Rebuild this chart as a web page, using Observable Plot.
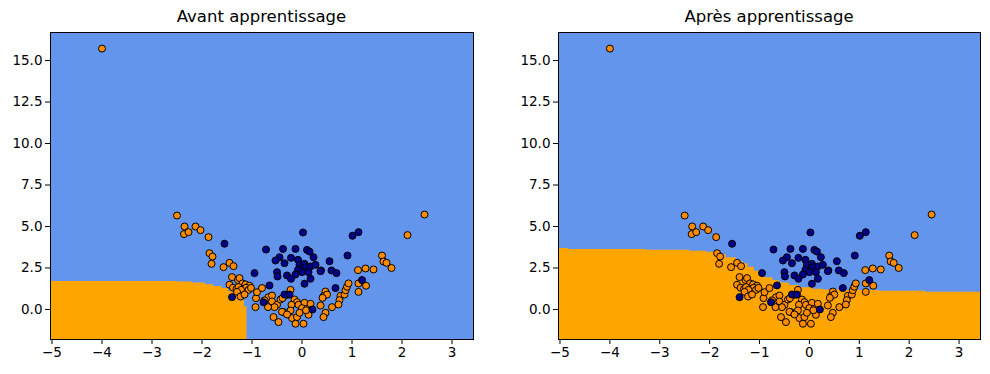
<!DOCTYPE html>
<html>
<head>
<meta charset="utf-8">
<script src="https://cdn.jsdelivr.net/npm/d3@7"></script>
<script src="https://cdn.jsdelivr.net/npm/@observablehq/plot@0.6"></script>
<style>
  html, body { margin: 0; padding: 0; background: white; }
  #root { position: relative; width: 990px; height: 374px; overflow: hidden; font-family: "DejaVu Sans", sans-serif; }
  .panel { position: absolute; top: 0; }
  .title { position: absolute; top: 7px; font-size: 16.5px; color: black; white-space: nowrap; transform: translateX(-50%); }
</style>
</head>
<body>
<div id="root"></div>
<script>
// ---- data ----
const titles = ["Avant apprentissage", "Après apprentissage"];
const xTicks = [-5, -4, -3, -2, -1, 0, 1, 2, 3];
const yTicks = [0, 2.5, 5, 7.5, 10, 12.5, 15];
const xDomain = [-5.03, 3.43];
const yDomain = [-1.81, 16.69];

// class 0 points (darkorange)
const orangePoints = [
  [-4.0,15.72],[-2.5,5.66],[-2.35,5.0],[-2.36,4.54],[-2.27,4.66],[-2.13,5.0],[-2.03,4.78],[-1.87,4.36],
  [-1.85,3.39],[-1.79,3.19],[-1.81,2.75],[-1.57,2.55],[-1.45,2.81],[-1.37,2.61],
  [-1.4,1.95],[-1.28,1.77],[-1.25,1.89],[-1.19,1.57],[-1.45,1.49],[-1.38,1.31],[-1.31,1.24],[-1.27,1.35],
  [-1.13,1.51],[-1.05,1.43],[-1.12,1.31],[-1.22,1.18],[-1.07,1.18],[-1.3,1.06],[-1.23,0.78],[-1.15,0.9],[-1.02,1.3],
  [-0.93,0.14],[-0.92,0.68],[-0.9,1.04],[-0.8,1.29],[-0.67,0.74],[-0.6,0.84],[-0.6,0.48],[-0.5,0.28],
  [-0.55,0.14],[-0.43,0.6],[-0.39,0.68],[-0.3,0.88],[-0.23,1.18],[-0.15,0.6],[-0.1,0.44],[-0.21,0.28],
  [-0.07,0.28],[0.05,0.4],[0.0,0.08],[0.1,0.04],[0.13,-0.32],[-0.57,-0.46],[-0.47,-0.76],[-0.2,-0.52],
  [-0.1,-0.46],[-0.13,-0.86],[0.03,-0.86],[-0.23,-0.06],[-0.37,-0.16],[0.17,0.34],[-0.75,0.55],[-0.68,0.14],
  [-0.4,-0.14],[-0.3,-0.3],[-0.05,-0.2],[0.08,-0.05],
  [0.47,1.08],[0.43,0.8],[0.37,0.24],[0.47,-0.2],[0.43,-0.46],[0.6,0.14],[0.5,0.9],[0.41,0.7],[0.77,0.82],
  [0.75,0.56],[0.73,0.3],[0.85,0.9],[0.87,1.16],[0.9,1.37],[0.93,1.57],[1.13,1.57],[1.28,1.43],[1.13,1.06],
  [1.12,2.37],[1.27,2.47],[1.43,2.41],[1.79,2.5],[1.6,3.25],[1.63,2.89],[1.69,2.81],[2.11,4.48],[2.45,5.72]
];

// class 1 points (darkblue)
const bluePoints = [
  [-1.55,3.96],[0.02,4.64],[1.01,4.44],[1.13,4.66],[-0.72,3.61],[-0.38,3.65],[-0.13,3.65],[0.10,3.59],
  [0.15,3.49],[-0.45,3.15],[-0.53,2.95],[-0.22,3.11],[-0.35,2.79],[-0.08,2.99],[0.23,3.15],[0.55,2.91],
  [0.91,3.25],[-0.05,2.69],[0.05,2.75],[0.07,2.55],[0.17,2.59],[0.27,2.69],[0.38,2.35],[0.59,2.35],
  [0.69,2.19],[-0.08,2.39],[0.0,2.25],[0.13,2.25],[-0.5,2.25],[-0.49,1.99],[-0.3,2.05],[-0.13,2.11],
  [-0.22,1.85],[0.17,1.85],[0.05,1.55],[-0.95,2.19],[-0.65,1.45],[0.67,1.29],[1.2,1.77],[-1.4,0.74],
  [-0.77,0.44],[-0.35,0.9],[-0.25,0.9],[0.21,0.0],[0.37,2.31]
];

// upper edge of the orange decision region (step boundary)
const boundaryBefore = [
  [-5.03,1.69],[-2.5,1.65],[-2.2,1.59],[-1.93,1.49],[-1.77,1.39],[-1.6,1.27],[-1.47,1.1],
  [-1.33,0.9],[-1.23,0.54],[-1.15,0.18],[-1.1,0.18]
];
const boundaryAfter = [
  [-5.03,3.67],[-4.83,3.61],[-3.27,3.57],[-2.4,3.51],[-2.07,3.45],[-1.87,3.31],[-1.67,3.11],
  [-1.47,2.91],[-1.33,2.75],[-1.23,2.55],[-1.1,2.31],[-1.0,2.11],[-0.9,1.91],[-0.73,1.75],
  [-0.6,1.59],[-0.4,1.45],[-0.2,1.31],[0.07,1.22],[0.27,1.18],[0.73,1.14],[1.4,1.1],[2.33,1.04],[3.43,1.04]
];

// ---- layout ----
const panels = [
  {left: 0, width: 495, marginLeft: 50, marginRight: 22, boundary: boundaryBefore},
  {left: 495, width: 495, marginLeft: 63, marginRight: 10, boundary: boundaryAfter}
];

const root = document.getElementById("root");
const fmtX = d3.format("d");
const fmtY = d3.format(".1f");

panels.forEach((p, i) => {
  const chart = Plot.plot({
    width: p.width,
    height: 374,
    marginLeft: p.marginLeft,
    marginRight: p.marginRight,
    marginTop: 32,
    marginBottom: 35,
    style: {fontFamily: "DejaVu Sans, sans-serif", fontSize: "13.5px", background: "transparent", color: "black"},
    x: {domain: xDomain, label: null},
    y: {domain: yDomain, label: null},
    marks: [
      Plot.frame({fill: "cornflowerblue"}),
      Plot.areaY(p.boundary, {x: d => d[0], y1: yDomain[0], y2: d => d[1], curve: "step-after", fill: "orange", clip: true}),
      Plot.dot(orangePoints, {x: d => d[0], y: d => d[1], r: 3.5, fill: "darkorange", stroke: "black", strokeWidth: 1}),
      Plot.dot(bluePoints, {x: d => d[0], y: d => d[1], r: 3.5, fill: "darkblue", stroke: "black", strokeWidth: 1}),
      Plot.frame({stroke: "black", strokeWidth: 1}),
      Plot.axisX({ticks: xTicks, tickFormat: fmtX, tickSize: 5, tickPadding: 3, label: null}),
      Plot.axisY({ticks: yTicks, tickFormat: fmtY, tickSize: 5, tickPadding: 3, label: null})
    ]
  });
  const wrap = document.createElement("div");
  wrap.className = "panel";
  wrap.style.left = p.left + "px";
  wrap.appendChild(chart);
  root.appendChild(wrap);

  const t = document.createElement("div");
  t.className = "title";
  t.textContent = titles[i];
  const frameLeft = p.left + p.marginLeft;
  const frameRight = p.left + p.width - p.marginRight;
  t.style.left = ((frameLeft + frameRight) / 2) + "px";
  root.appendChild(t);
});
</script>
</body>
</html>
